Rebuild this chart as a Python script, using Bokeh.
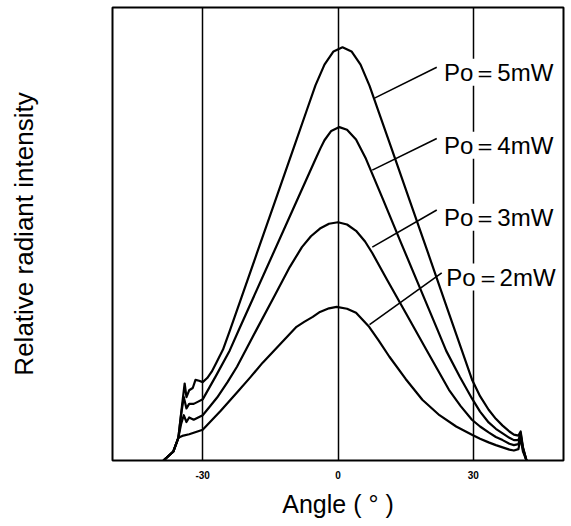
from bokeh.plotting import figure
from bokeh.models import Range1d, FixedTicker, Label
from bokeh.embed import file_html
from bokeh.resources import INLINE

# ---- data (angle in degrees, relative intensity 0..1) ----
angle_5 = [-38.7, -36.5, -35.4, -34.6, -34.0, -33.6, -33.0, -32.2, -31.6, -30.8, -30.0, -29.0,
           -28.0, -27.0, -25.5, -24.0, -22.0, -18.0, -14.0, -10.0, -7.0, -5.0, -3.0, -1.0, 1.0,
           3.0, 5.0, 7.0, 9.0, 12.0, 16.0, 20.0, 24.0, 27.5, 29.7, 31.5, 33.4, 35.0, 36.5, 38.0,
           39.0, 40.0, 40.5, 41.0, 41.8]
int_5 = [0.0, 0.02, 0.05, 0.12, 0.17, 0.14, 0.155, 0.16, 0.178, 0.176, 0.173, 0.182,
         0.196, 0.215, 0.245, 0.286, 0.343, 0.457, 0.571, 0.685, 0.771, 0.828, 0.874, 0.903, 0.912,
         0.903, 0.874, 0.827, 0.770, 0.685, 0.571, 0.457, 0.342, 0.242, 0.179, 0.142, 0.112, 0.092, 0.077, 0.064,
         0.057, 0.055, 0.064, 0.03, 0.0]

angle_4 = [-38.7, -36.5, -35.4, -34.8, -34.2, -33.6, -33.0, -32.0, -31.0, -30.0, -27.0, -24.0,
           -22.0, -16.0, -10.0, -5.0, -3.9, -3.0, -1.5, 0.3, 2.0, 4.0, 6.2, 10.0, 14.0, 18.0,
           22.0, 24.0, 27.0, 29.7, 31.5, 33.4, 35.0, 36.5, 38.0, 39.0, 40.0, 40.5, 41.0, 41.8]
int_4 = [0.0, 0.02, 0.05, 0.10, 0.14, 0.115, 0.125, 0.125, 0.13, 0.135, 0.188, 0.243,
         0.288, 0.421, 0.554, 0.665, 0.689, 0.707, 0.7275, 0.736, 0.730, 0.7085, 0.666, 0.576, 0.480, 0.385,
         0.290, 0.242, 0.185, 0.137, 0.108, 0.084, 0.07, 0.06, 0.05, 0.045, 0.045, 0.06, 0.028, 0.0]

angle_3 = [-38.7, -36.5, -35.4, -34.8, -34.2, -33.6, -33.0, -32.0, -31.0, -30.0, -28.5, -26.8,
           -24.5, -22.4, -18.0, -14.0, -10.7, -8.0, -6.0, -4.0, -2.0, 0.0, 2.0, 4.0, 6.0, 7.6,
           11.0, 15.0, 19.5, 22.0, 24.6, 27.2, 29.7, 31.5, 33.4, 35.0, 36.5, 38.0, 39.0, 40.0,
           40.5, 41.0, 41.8]
int_3 = [0.0, 0.02, 0.05, 0.08, 0.10, 0.085, 0.095, 0.09, 0.095, 0.10, 0.118, 0.139,
         0.173, 0.207, 0.290, 0.365, 0.427, 0.471, 0.495, 0.512, 0.5226, 0.526, 0.521, 0.507, 0.4835, 0.458,
         0.397, 0.326, 0.246, 0.202, 0.156, 0.12, 0.09, 0.075, 0.062, 0.052, 0.045, 0.037, 0.034, 0.036,
         0.055, 0.025, 0.0]

angle_2 = [-38.7, -36.5, -35.4, -34.3, -33.0, -31.5, -30.0, -26.0, -22.4, -19.5, -16.7, -13.0,
           -9.2, -7.5, -5.6, -4.0, -2.0, -0.3, 2.0, 4.0, 6.9, 9.0, 11.4, 15.0, 18.7, 22.5,
           26.2, 29.7, 31.5, 33.4, 35.0, 36.5, 38.0, 39.0, 40.0, 40.5, 41.0, 41.8]
int_2 = [0.0, 0.02, 0.05, 0.055, 0.058, 0.063, 0.068, 0.11, 0.150, 0.183, 0.216, 0.255,
         0.295, 0.306, 0.317, 0.328, 0.336, 0.339, 0.335, 0.326, 0.295, 0.265, 0.229, 0.18, 0.134, 0.10,
         0.075, 0.057, 0.048, 0.040, 0.034, 0.029, 0.024, 0.022, 0.025, 0.05, 0.02, 0.0]

series_labels = ["Po＝5mW", "Po＝4mW", "Po＝3mW", "Po＝2mW"]
label_x = [23.5, 23.5, 23.5, 24.0]
label_y = [0.857, 0.696, 0.537, 0.405]
leader_x0 = [21.9, 21.9, 21.9, 23.0]
leader_y0 = [0.868, 0.711, 0.553, 0.414]
leader_x1 = [8.1, 7.6, 7.6, 7.0]
leader_y1 = [0.800, 0.641, 0.471, 0.300]

x_ticks = [-30, 0, 30]
x_tick_labels = ["-30", "0", "30"]
x_title = "Angle ( ° )"
y_title = "Relative radiant intensity"

FONT = "Liberation Sans"

p = figure(width=565, height=520, x_range=Range1d(-50, 50), y_range=Range1d(0, 1),
           output_backend="svg", toolbar_location=None,
           min_border_left=112, min_border_right=2, min_border_top=7, min_border_bottom=59)
p.background_fill_color = "white"
p.border_fill_color = "white"
p.outline_line_color = "black"
p.outline_line_width = 2
p.outline_line_alpha = 1

# x axis
p.xaxis.ticker = FixedTicker(ticks=x_ticks)
p.xaxis.major_label_overrides = {t: s for t, s in zip(x_ticks, x_tick_labels)}
p.xaxis.major_tick_out = 0
p.xaxis.major_tick_in = 0
p.xaxis.minor_tick_out = 0
p.xaxis.minor_tick_in = 0
p.xaxis.axis_line_color = None
p.xaxis.major_label_text_font = FONT
p.xaxis.major_label_text_font_size = "10px"
p.xaxis.major_label_text_font_style = "bold"
p.xaxis.major_label_text_color = "black"
p.xaxis.major_label_standoff = 10
p.xaxis.axis_label = x_title
p.xaxis.axis_label_text_font = FONT
p.xaxis.axis_label_text_font_size = "25px"
p.xaxis.axis_label_text_font_style = "normal"
p.xaxis.axis_label_text_color = "black"
p.xaxis.axis_label_standoff = 8

# y axis: no ticks, only its title
p.yaxis.ticker = FixedTicker(ticks=[])
p.yaxis.major_tick_out = 0
p.yaxis.major_tick_in = 0
p.yaxis.minor_tick_out = 0
p.yaxis.minor_tick_in = 0
p.yaxis.axis_line_color = None
p.yaxis.major_label_text_font_size = "0px"
p.yaxis.axis_label = y_title
p.yaxis.axis_label_text_font = FONT
p.yaxis.axis_label_text_font_size = "26px"
p.yaxis.axis_label_text_font_style = "normal"
p.yaxis.axis_label_text_color = "black"
p.yaxis.axis_label_standoff = 74

# grid
p.xgrid.ticker = FixedTicker(ticks=x_ticks)
p.xgrid.grid_line_color = "black"
p.xgrid.grid_line_width = 1.5
p.xgrid.grid_line_alpha = 1
p.ygrid.grid_line_color = None

for ax, iy in [(angle_5, int_5), (angle_4, int_4), (angle_3, int_3), (angle_2, int_2)]:
    p.line(ax, iy, line_color="black", line_width=2.2, line_join="round")

p.segment(x0=leader_x0, y0=leader_y0, x1=leader_x1, y1=leader_y1,
          line_color="black", line_width=1.6)

for txt, lx, ly in zip(series_labels, label_x, label_y):
    p.add_layout(Label(x=lx, y=ly, text=txt, text_font=FONT, text_font_size="24px",
                       text_color="black", text_align="left", text_baseline="middle",
                       background_fill_color="white", background_fill_alpha=1))

open("out.html", "w").write(file_html(p, INLINE))
